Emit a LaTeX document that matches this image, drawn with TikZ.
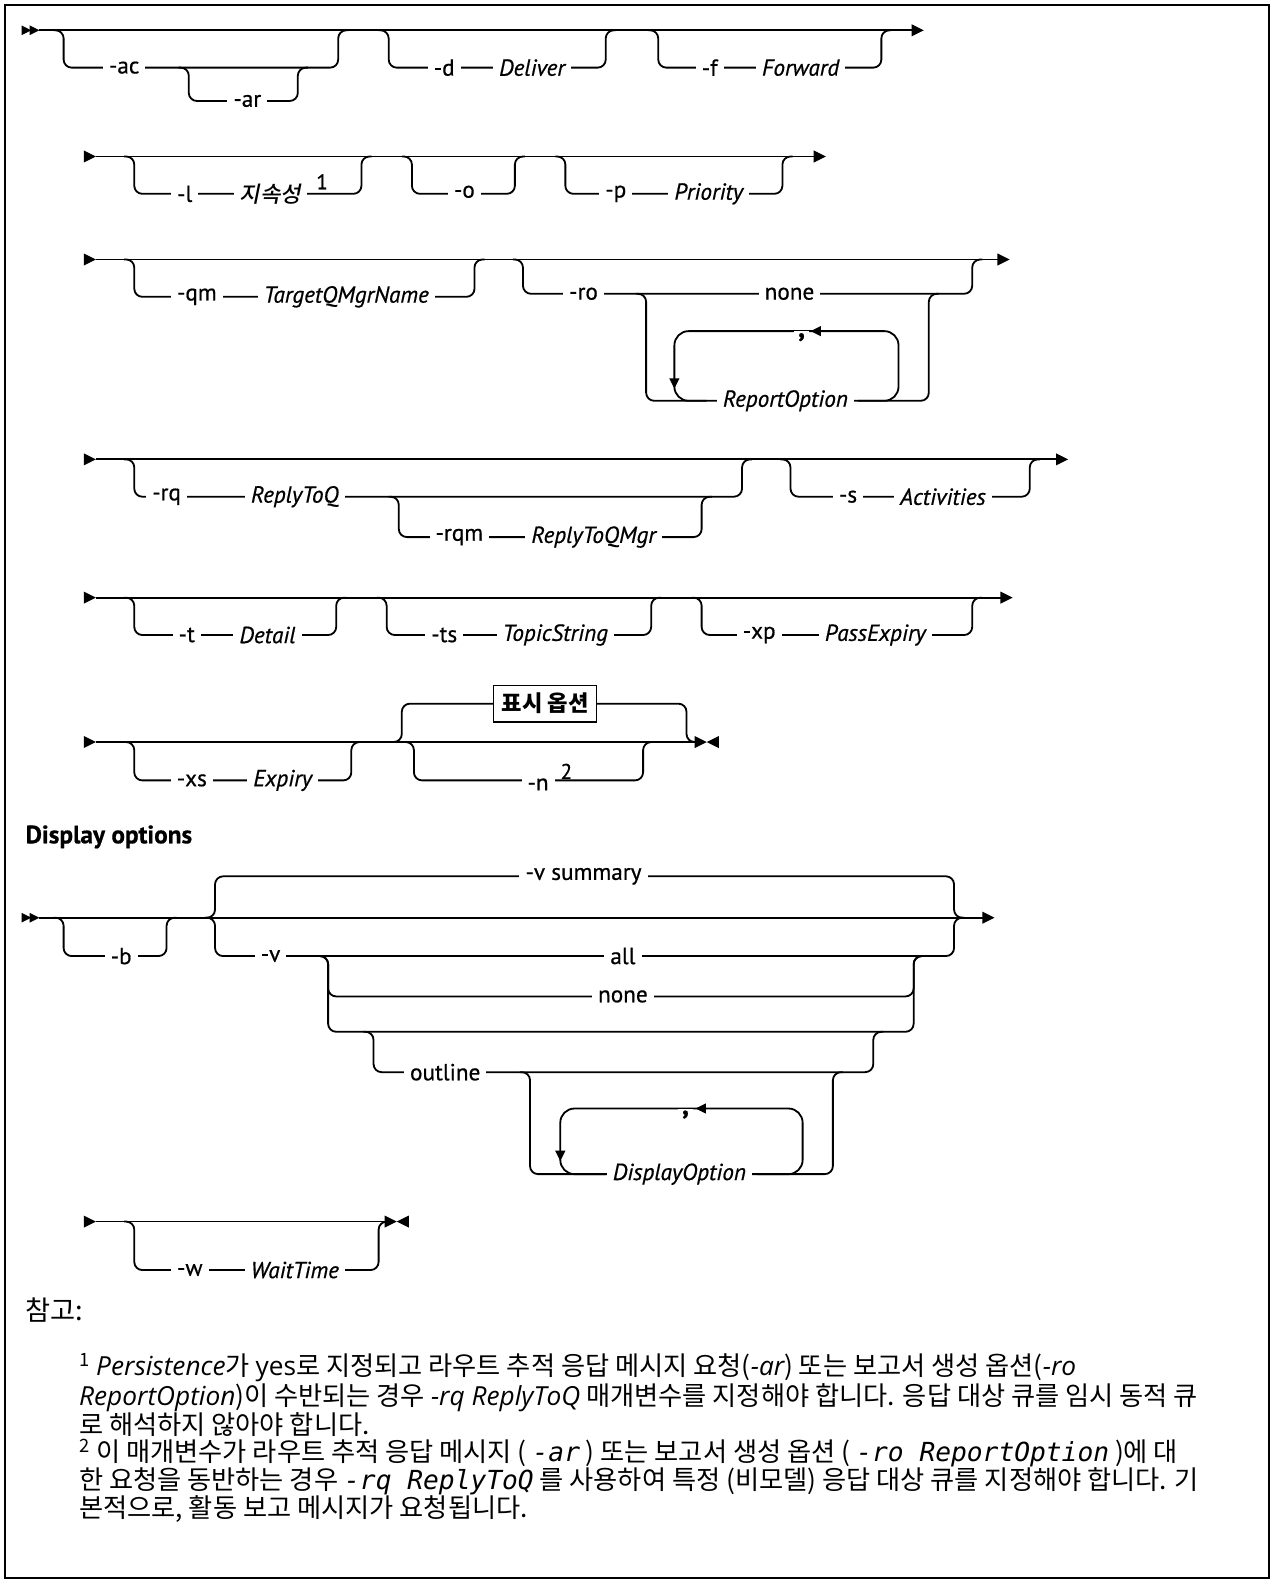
\documentclass[tikz,border=0pt]{standalone}
\usepackage{fontspec}
\setmainfont{Noto Sans CJK KR}
\newfontfamily\dgmfont{PT Sans}[FakeBold=0.6]
\newfontfamily\krslant{Noto Sans CJK KR Medium}[FakeSlant=0.2]
\newfontfamily\latfont{Open Sans}
\newfontfamily\monofont{DejaVu Sans Mono}

\begin{document}
\begin{tikzpicture}[
    x=0.5pt, y=-0.5pt,
    rail/.style={line width=0.9pt, rounded corners=4pt},
    loop/.style={rail, rounded corners=7pt},
    kw/.style={font=\dgmfont\fontsize{11.5}{13}\selectfont, fill=white, inner xsep=3pt, inner ysep=1pt},
    var/.style={kw, font=\dgmfont\fontsize{11.5}{13}\selectfont\itshape},
    sep/.style={kw, inner xsep=2pt, font=\dgmfont\fontsize{14}{15}\selectfont\bfseries},
    supnum/.style={font=\dgmfont\fontsize{10.5}{12}\selectfont, inner sep=0pt},
    note/.style={anchor=west, inner sep=0pt, font=\fontsize{13}{15}\selectfont},
    tri/.pic={\fill (-12,-6) -- (0,0) -- (-12,6) -- cycle;},
  ]
  \useasboundingbox (0,0) rectangle (1262,1568);
  \draw[line width=1pt] (5,5) rectangle (1257,1563);

  % Row 1: -ac / -ar, -d, -f
  \draw[rail] (39,30) -- (905,30);
  \pic[scale=0.8] at (31,30) {tri};
  \pic[scale=0.8] at (39,30) {tri};
  \pic at (915,30) {tri};
  \draw[rail] (53,30) -- (63,30) -- (63,67) -- (335,67) -- (335,30) -- (345,30);
  \draw[rail] (177,67) -- (187,67) -- (187,100) -- (295,100) -- (295,67) -- (305,67);
  \draw[rail] (375,30) -- (385,30) -- (385,67) -- (600,67) -- (600,30) -- (610,30);
  \draw[rail] (642,30) -- (652,30) -- (652,67) -- (873,67) -- (873,30) -- (883,30);
  \node[kw] (ac) at (123,67) {-ac};
  \node[kw] (ar) at (245,100) {-ar};
  \node[kw] (d) at (440,67) {-d};
  \node[var] (deliver) at (527,67) {Deliver};
  \node[kw] (f) at (703,67) {-f};
  \node[var] (forward) at (793,67) {Forward};

  % Row 2: -l, -o, -p
  \draw[rail] (95,155) -- (808,155);
  \pic at (95,155) {tri};
  \pic at (818,155) {tri};
  \draw[rail] (123,155) -- (133,155) -- (133,192) -- (358,192) -- (358,155) -- (368,155);
  \draw[rail] (398,155) -- (408,155) -- (408,192) -- (510,192) -- (510,155) -- (520,155);
  \draw[rail] (550,155) -- (560,155) -- (560,192) -- (775,192) -- (775,155) -- (785,155);
  \node[kw] (l) at (183,192) {-l};
  \node[kw, font=\krslant\fontsize{11}{13}\selectfont] (persist) at (268,192) {지속성};
  \node[supnum] (sup1) at (319,180) {1};
  \node[kw] (o) at (460,190) {-o};
  \node[kw] (p) at (610,192) {-p};
  \node[var] (priority) at (702,192) {Priority};

  % Row 3: -qm, -ro
  \draw[rail] (95,257) -- (990,257);
  \pic at (95,257) {tri};
  \pic at (1000,257) {tri};
  \draw[rail] (123,257) -- (133,257) -- (133,294) -- (470,294) -- (470,257) -- (480,257);
  \draw[rail] (508,257) -- (518,257) -- (518,291) -- (963,291) -- (963,257) -- (973,257);
  \draw[rail] (630,291) -- (640,291) -- (640,397) -- (920,397) -- (920,291) -- (930,291);
  \draw[loop] (850,397) -- (890,397) -- (890,328) -- (668,328) -- (668,397) -- (700,397);
  \node[kw] (qm) at (195,294) {-qm};
  \node[var] (tqm) at (343,294) {TargetQMgrName};
  \node[kw] (ro) at (578,291) {-ro};
  \node[kw] (ronone) at (782,291) {none};
  \node[var] (repopt) at (778,397) {ReportOption};
  \node[sep] (rocomma) at (794,334) {,};
  \pic[rotate=180, scale=0.85] at (803,328) {tri};
  \pic[rotate=-90, scale=0.85] at (668,385) {tri};

  % Row 4: -rq / -rqm, -s
  \draw[rail] (95,455) -- (1048,455);
  \pic at (95,455) {tri};
  \pic at (1058,455) {tri};
  \draw[rail] (123,455) -- (133,455) -- (133,492) -- (735,492) -- (735,455) -- (745,455);
  \draw[rail] (385,492) -- (395,492) -- (395,532) -- (695,532) -- (695,492) -- (705,492);
  \draw[rail] (773,455) -- (783,455) -- (783,492) -- (1020,492) -- (1020,455) -- (1030,455);
  \node[kw] (rq) at (165,492) {-rq};
  \node[var] (replytoq) at (292,492) {ReplyToQ};
  \node[kw] (rqm) at (455,532) {-rqm};
  \node[var] (replytoqmgr) at (588,532) {ReplyToQMgr};
  \node[kw] (s) at (840,492) {-s};
  \node[var] (activities) at (934,492) {Activities};

  % Row 5: -t, -ts, -xp
  \draw[rail] (95,592) -- (993,592);
  \pic at (95,592) {tri};
  \pic at (1003,592) {tri};
  \draw[rail] (123,592) -- (133,592) -- (133,629) -- (333,629) -- (333,592) -- (343,592);
  \draw[rail] (373,592) -- (383,592) -- (383,629) -- (645,629) -- (645,592) -- (655,592);
  \draw[rail] (685,592) -- (695,592) -- (695,629) -- (963,629) -- (963,592) -- (973,592);
  \node[kw] (t) at (185,629) {-t};
  \node[var] (detail) at (265,629) {Detail};
  \node[kw] (ts) at (440,629) {-ts};
  \node[var] (topicstring) at (550,629) {TopicString};
  \node[kw] (xp) at (752,629) {-xp};
  \node[var] (passexpiry) at (867,629) {PassExpiry};

  % Row 6: -xs, display options / -n
  \draw[rail] (95,735) -- (692,735);
  \pic at (95,735) {tri};
  \pic at (700,735) {tri};
  \pic[rotate=180] at (700,735) {tri};
  \draw[rail] (123,735) -- (133,735) -- (133,773) -- (348,773) -- (348,735) -- (358,735);
  \draw[rail] (388,735) -- (398,735) -- (398,697) -- (680,697) -- (680,735) -- (690,735);
  \draw[rail] (400,735) -- (410,735) -- (410,773) -- (637,773) -- (637,735) -- (647,735);
  \node[kw] (xs) at (190,773) {-xs};
  \node[var] (expiry) at (280,773) {Expiry};
  \node[draw, fill=white, line width=0.8pt, minimum height=18pt, inner xsep=4pt,
    font=\fontsize{11}{13}\selectfont\bfseries] (dispbox) at (540,697) {표시 옵션};
  \node[kw] (n) at (533,777) {-n};
  \node[supnum] (sup2) at (561,764) {2};

  % Display options
  \node[anchor=west, inner sep=0pt, font=\dgmfont\fontsize{12.5}{14}\selectfont\bfseries]
    (dohead) at (25,829) {Display options};
  \draw[rail] (39,909) -- (975,909);
  \pic[scale=0.8] at (31,909) {tri};
  \pic[scale=0.8] at (39,909) {tri};
  \pic at (985,909) {tri};
  \draw[rail] (53,909) -- (63,909) -- (63,947) -- (165,947) -- (165,909) -- (175,909);
  \draw[rail] (203,909) -- (213,909) -- (213,868) -- (945,868) -- (945,909) -- (955,909);
  \draw[rail] (203,909) -- (213,909) -- (213,947) -- (945,947) -- (945,909) -- (955,909);
  \draw[rail] (315,947) -- (325,947) -- (325,987) -- (905,987) -- (905,947) -- (915,947);
  \draw[rail] (315,947) -- (325,947) -- (325,1022) -- (905,1022) -- (905,947) -- (915,947);
  \draw[rail] (360,1022) -- (370,1022) -- (370,1062) -- (865,1062) -- (865,1022) -- (875,1022);
  \draw[rail] (515,1062) -- (525,1062) -- (525,1163) -- (825,1163) -- (825,1062) -- (835,1062);
  \draw[loop] (750,1163) -- (795,1163) -- (795,1098) -- (555,1098) -- (555,1163) -- (600,1163);
  \node[kw] (b) at (120,947) {-b};
  \node[kw] (vsum) at (578,868) {-v summary};
  \node[kw] (v) at (268,947) {-v};
  \node[kw] (vall) at (617,947) {all};
  \node[kw] (vnone) at (617,987) {none};
  \node[kw] (outline) at (441,1062) {outline};
  \node[var] (dispopt) at (673,1163) {DisplayOption};
  \node[sep] (docomma) at (679,1104) {,};
  \pic[rotate=180, scale=0.85] at (689,1098) {tri};
  \pic[rotate=-90, scale=0.85] at (555,1150) {tri};

  % Row 8: -w
  \draw[rail] (95,1210) -- (386,1210);
  \pic at (95,1210) {tri};
  \pic at (393,1210) {tri};
  \pic[rotate=180] at (393,1210) {tri};
  \draw[rail] (123,1210) -- (133,1210) -- (133,1258) -- (375,1258) -- (375,1210) -- (385,1210);
  \node[kw] (w) at (188,1258) {-w};
  \node[var] (waittime) at (292,1258) {WaitTime};

  % Notes
  \node[note, font=\fontsize{13.5}{16}\selectfont] (notehead) at (25,1298) {참고:};
  \node[note] (note1a) at (78,1355) {\textsuperscript{1} {\latfont\itshape Persistence}가 {\latfont yes}로 지정되고 라우트 추적 응답 메시지 요청({\latfont\itshape -ar}) 또는 보고서 생성 옵션({\latfont\itshape -ro}};
  \node[note] (note1b) at (78,1384) {{\latfont\itshape ReportOption})이 수반되는 경우 {\latfont\itshape -rq ReplyToQ} 매개변수를 지정해야 합니다. 응답 대상 큐를 임시 동적 큐};
  \node[note] (note1c) at (78,1411) {로 해석하지 않아야 합니다.};
  \node[note] (note2a) at (78,1439) {\textsuperscript{2} 이 매개변수가 라우트 추적 응답 메시지 ( {\monofont\itshape -ar} ) 또는 보고서 생성 옵션 ( {\monofont\itshape -ro ReportOption} )에 대};
  \node[note] (note2b) at (78,1467) {한 요청을 동반하는 경우 {\monofont\itshape -rq ReplyToQ} 를 사용하여 특정 (비모델) 응답 대상 큐를 지정해야 합니다. 기};
  \node[note] (note2c) at (78,1495) {본적으로, 활동 보고 메시지가 요청됩니다.};
\end{tikzpicture}
\end{document}
